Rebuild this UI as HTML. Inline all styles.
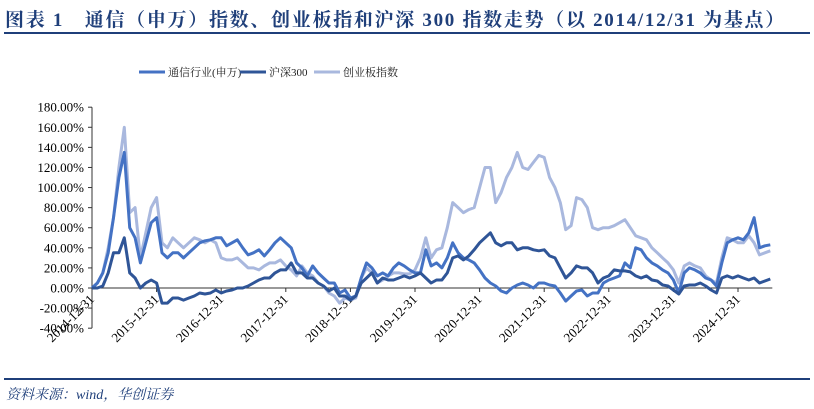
<!DOCTYPE html>
<html><head><meta charset="utf-8">
<style>
body{margin:0;background:#fff;}
#wrap{position:relative;width:814px;height:409px;overflow:hidden;font-family:"Liberation Serif","Noto Serif CJK SC",serif;}
#title{position:absolute;left:5px;top:5px;font-size:19px;font-weight:bold;color:#1F3F7A;white-space:nowrap;letter-spacing:1.7px;}
#rule1{position:absolute;left:4px;top:32px;width:806px;height:2px;background:#1F3F7A;}
#rule2{position:absolute;left:4px;top:378px;width:806px;height:2px;background:#1F3F7A;}
#src{position:absolute;left:6px;top:384px;font-size:14px;font-style:italic;color:#1F3F7A;}
svg{position:absolute;left:0;top:0;}
</style></head><body>
<div id="wrap">
<div id="title">图表 1　通信（申万）指数、创业板指和沪深 300 指数走势（以 2014/12/31 为基点）</div>
<div id="rule1"></div>
<svg id="chart" width="814" height="409"></svg>
<div id="rule2"></div>
<div id="src">资料来源：wind，华创证券</div>
</div>
<script>
const seriesNames = ["通信行业(申万)", "沪深300", "创业板指数"];
const xTickLabels = ["2014-12-31","2015-12-31","2016-12-31","2017-12-31","2018-12-31","2019-12-31","2020-12-31","2021-12-31","2022-12-31","2023-12-31","2024-12-31"];
const yTicks = [-40,-20,0,20,40,60,80,100,120,140,160,180];
// monthly values (%), starting 2014-12-31
const telecom = [0,
5,15,35,70,110,135,60,50,25,45,65,70,
35,30,35,35,30,35,40,45,47,48,50,50,
42,45,48,40,33,35,38,32,38,45,50,45,
40,25,20,12,22,15,10,5,5,-5,-2,-10,
-8,10,25,20,12,15,12,20,25,22,18,15,
15,38,22,25,20,30,45,35,30,28,25,18,
10,5,2,-3,-5,0,3,5,3,0,5,5,
3,2,-5,-13,-8,-3,-2,-8,-5,-5,5,8,
10,12,25,20,40,38,30,25,22,18,15,8,
-5,15,20,18,15,10,8,2,25,45,48,50,
48,55,70,40,42,43];
const csi300 = [0,
0,2,15,35,35,50,15,10,0,5,8,5,
-15,-15,-10,-10,-12,-10,-8,-5,-6,-5,-2,-5,
-3,-2,0,0,2,5,8,10,10,15,18,18,
25,15,15,10,10,5,2,-3,0,-8,-8,-12,
-8,5,10,15,5,10,8,8,10,12,10,12,
15,10,5,8,8,15,30,32,28,32,38,45,
50,55,45,42,45,45,38,40,40,38,37,38,
32,30,20,10,15,22,20,20,15,5,10,12,
18,17,17,16,12,10,12,8,7,3,2,-2,
-6,2,3,3,5,2,-2,-5,10,12,10,12,
10,8,10,5,7,9];
const chinext = [0,
5,15,40,70,120,160,75,80,30,55,80,90,
45,40,50,45,40,45,50,48,45,48,45,30,
28,28,30,25,20,20,18,22,25,25,28,22,
18,12,22,15,12,5,2,-5,-8,-15,-10,-12,
-10,10,20,15,5,8,12,15,15,14,14,18,
30,50,30,38,40,60,85,80,75,78,80,100,
120,120,85,95,110,120,135,120,118,125,132,130,
110,100,85,58,62,90,88,80,60,58,60,60,
62,65,68,60,52,50,48,40,35,30,25,18,
5,22,25,22,20,12,8,5,30,50,48,45,
45,52,45,33,35,37];
const colors = ["#4472C4","#2F5597","#A9B8DE"];
const allSeries = [telecom, csi300, chinext];

const svg = document.getElementById('chart');
const NS = "http://www.w3.org/2000/svg";
const X0 = 92, PX_PER_YEAR = 64.6, Y0 = 288, PX_PER_PCT = 1.0045;
function xScale(monthIdx){ return X0 + monthIdx/12*PX_PER_YEAR; }
function yScale(v){ return Y0 - v*PX_PER_PCT; }
function mk(tag, attrs){ const e=document.createElementNS(NS,tag); for(const k in attrs) e.setAttribute(k,attrs[k]); svg.appendChild(e); return e; }

const ya = mk('line',{x1:X0,y1:yScale(180),x2:X0,y2:yScale(-40),stroke:'#333','stroke-width':1});


yTicks.forEach(v=>{
  const t = mk('line',{x1:X0-4,y1:yScale(v),x2:X0,y2:yScale(v),stroke:'#333'});
  
  
  const tx = mk('text',{x:X0-8,y:yScale(v)+4.5,'text-anchor':'end','font-size':'13px','font-family':'Liberation Serif, serif',fill:'#000'});
  tx.textContent = v.toFixed(2)+'%';
  
  
});
const xEnd = xScale(telecom.length-1)+2;
const xa = mk('line',{x1:X0,y1:Y0,x2:xEnd,y2:Y0,stroke:'#333','stroke-width':1});


xTickLabels.forEach((lab,i)=>{
  const x = xScale(i*12);
  const t = mk('line',{x1:x,y1:Y0,x2:x,y2:Y0+4,stroke:'#333'});
  
  
  const tx = mk('text',{x:x+3,y:Y0+12,'text-anchor':'end','font-size':'13px','font-family':'Liberation Serif, serif',fill:'#000',transform:`rotate(-45 ${x+3} ${Y0+12})`});
  tx.textContent = lab;
  
  
});
[2,0,1].forEach(si=>{
  const d = allSeries[si].map((v,i)=>(i?'L':'M')+xScale(i).toFixed(1)+' '+yScale(v).toFixed(1)).join(' ');
  const p = mk('path',{d:d,fill:'none',stroke:colors[si],'stroke-width':3,'stroke-linejoin':'round'});
  
  
});
const legX = [139,240,314];
seriesNames.forEach((n,i)=>{
  const l = mk('line',{x1:legX[i],y1:72,x2:legX[i]+26,y2:72,stroke:colors[i],'stroke-width':3});
  
  
  const t = mk('text',{x:legX[i]+29,y:76,'font-size':'11px','font-family':'Liberation Serif, Noto Serif CJK SC, serif',fill:'#222'});
  t.textContent = n;
  
  
});
</script>
</body></html>
